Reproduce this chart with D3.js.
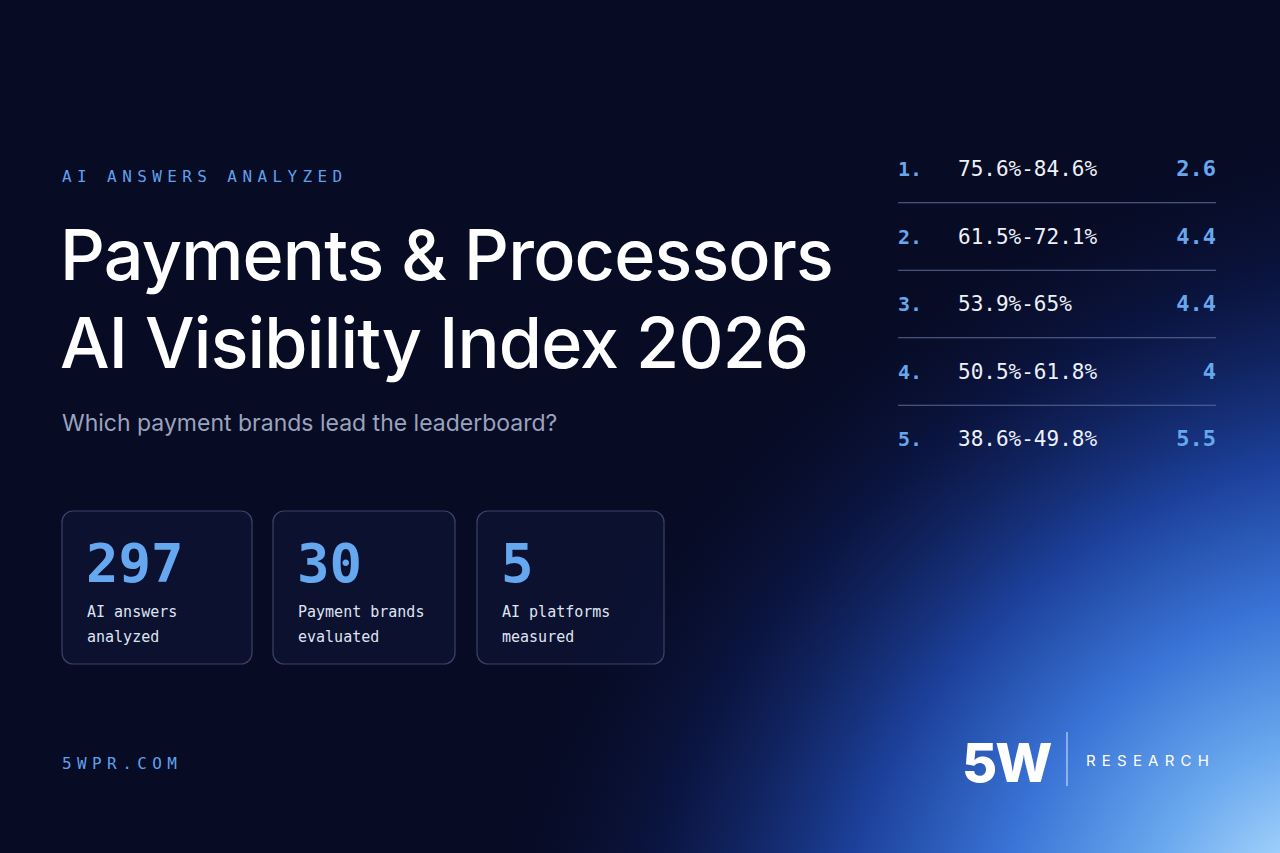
<!DOCTYPE html>
<html><head><meta charset="utf-8">
<script src="https://cdn.jsdelivr.net/npm/d3@7"></script>
<style>body{margin:0;background:#070b24;}svg{display:block;}</style>
</head><body>
<svg id="c"></svg>
<script>
// leaderboard rows
var ranks = ["1.", "2.", "3.", "4.", "5."];
var ranges = ["75.6%-84.6%", "61.5%-72.1%", "53.9%-65%", "50.5%-61.8%", "38.6%-49.8%"];
var scores = ["2.6", "4.4", "4.4", "4", "5.5"];
// stat cards
var statValues = ["297", "30", "5"];
var statLabels = [["AI answers", "analyzed"], ["Payment brands", "evaluated"], ["AI platforms", "measured"]];

var W = 1280, H = 853;
var mono = "'DejaVu Sans Mono', 'Liberation Mono', monospace";
var sans = "Inter, 'Noto Sans', sans-serif";
var svg = d3.select("#c").attr("width", W).attr("height", H);

var defs = svg.append("defs");
var rg = defs.append("radialGradient").attr("id", "glow")
    .attr("gradientUnits", "userSpaceOnUse")
    .attr("cx", 1300).attr("cy", 880).attr("r", 900)
    .attr("gradientTransform", "translate(1300,880) rotate(-35) scale(1,0.8) translate(-1300,-880)");
rg.append("stop").attr("offset", "0%").attr("stop-color", "#b0dcff");
rg.append("stop").attr("offset", "18%").attr("stop-color", "#6aa8ee");
rg.append("stop").attr("offset", "36%").attr("stop-color", "#3a74d6");
rg.append("stop").attr("offset", "55%").attr("stop-color", "#1c409a");
rg.append("stop").attr("offset", "78%").attr("stop-color", "#0d1a50").attr("stop-opacity", 0.7);
rg.append("stop").attr("offset", "100%").attr("stop-color", "#070b24").attr("stop-opacity", 0);

svg.append("rect").attr("width", W).attr("height", H).attr("fill", "#070b24");
svg.append("rect").attr("width", W).attr("height", H).attr("fill", "url(#glow)");

// header
svg.append("text").attr("x", 62).attr("y", 182).text("AI ANSWERS ANALYZED")
    .attr("font-family", mono).attr("font-size", 16).attr("letter-spacing", 5.4)
    .attr("fill", "#5fa0ec");
svg.selectAll(".title").data(["Payments & Processors", "AI Visibility Index 2026"]).enter()
    .append("text").attr("x", 60).attr("y", function(d, i) { return 280 + i * 88; })
    .text(function(d) { return d; })
    .attr("font-family", sans).attr("font-size", 70).attr("font-weight", 500)
    .attr("letter-spacing", -0.8).attr("fill", "#ffffff");
svg.append("text").attr("x", 62).attr("y", 431).text("Which payment brands lead the leaderboard?")
    .attr("font-family", sans).attr("font-size", 23).attr("fill", "#9aa3bd");

// stat cards
var cardX = d3.scaleOrdinal().domain(d3.range(3)).range([62, 273, 477]);
var cardW = [190, 182, 187];
var cards = svg.selectAll(".card").data(statValues).enter().append("g")
    .attr("transform", function(d, i) { return "translate(" + cardX(i) + ",511)"; });
cards.append("rect").attr("width", function(d, i) { return cardW[i]; }).attr("height", 153)
    .attr("rx", 11).attr("fill", "rgba(20,30,70,0.35)").attr("stroke", "#3b4468").attr("stroke-width", 1.2);
cards.append("text").attr("x", 24).attr("y", 71).text(function(d) { return d; })
    .attr("font-family", mono).attr("font-size", 54).attr("font-weight", "bold").attr("fill", "#66a8f0");
cards.each(function(d, i) {
  d3.select(this).selectAll(".lab").data(statLabels[i]).enter().append("text")
    .attr("x", 25).attr("y", function(t, j) { return 106 + j * 25; }).text(function(t) { return t; })
    .attr("font-family", mono).attr("font-size", 15).attr("fill", "#dfe4f2");
});

// leaderboard
var y = d3.scalePoint().domain(d3.range(ranks.length)).range([176, 446]);
var rows = svg.selectAll(".row").data(ranks).enter().append("g");
rows.append("text").attr("x", 898).attr("y", function(d, i) { return y(i); }).text(function(d) { return d; })
    .attr("font-family", mono).attr("font-size", 20).attr("font-weight", "bold").attr("fill", "#66a8f0");
rows.append("text").attr("x", 958).attr("y", function(d, i) { return y(i); }).text(function(d, i) { return ranges[i]; })
    .attr("font-family", mono).attr("font-size", 21).attr("fill", "#eef1f8");
rows.append("text").attr("x", 1216).attr("y", function(d, i) { return y(i); }).attr("text-anchor", "end")
    .text(function(d, i) { return scores[i]; })
    .attr("font-family", mono).attr("font-size", 22).attr("font-weight", "bold").attr("fill", "#66a8f0");
svg.selectAll(".sep").data(d3.range(ranks.length - 1)).enter().append("line")
    .attr("x1", 898).attr("x2", 1216)
    .attr("y1", function(i) { return (y(i) + y(i + 1)) / 2 - 7; })
    .attr("y2", function(i) { return (y(i) + y(i + 1)) / 2 - 7; })
    .attr("stroke", "#5a6a94").attr("stroke-width", 1.2);

// footer
svg.append("text").attr("x", 62).attr("y", 769).text("5WPR.COM")
    .attr("font-family", mono).attr("font-size", 16).attr("letter-spacing", 5.4).attr("fill", "#5fa0ec");
svg.append("text").attr("x", 962).attr("y", 782).text("5W")
    .attr("font-family", sans).attr("font-size", 54).attr("font-weight", 800).attr("letter-spacing", -2).attr("fill", "#ffffff");
svg.append("line").attr("x1", 1067).attr("x2", 1067).attr("y1", 732).attr("y2", 786)
    .attr("stroke", "rgba(255,255,255,0.7)").attr("stroke-width", 1.2);
svg.append("text").attr("x", 1086).attr("y", 766).text("RESEARCH")
    .attr("font-family", sans).attr("font-size", 15).attr("letter-spacing", 6.2).attr("fill", "#ffffff");
</script>
</body></html>
